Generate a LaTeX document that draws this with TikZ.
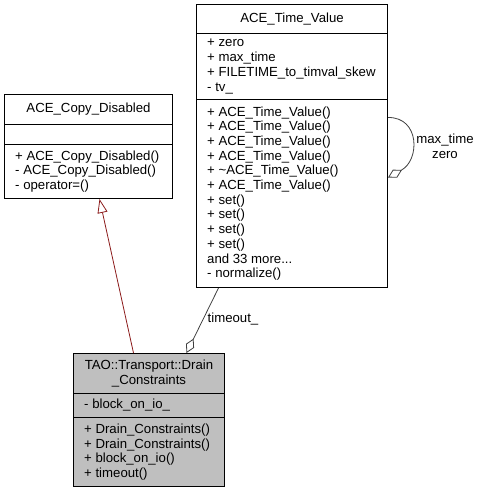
\documentclass[tikz,border=0pt]{standalone}
\usepackage{fontspec}
\setmainfont{Liberation Sans}
\usepackage{xcolor}
\usetikzlibrary{arrows.meta,positioning}
\definecolor{firebrick}{RGB}{139,26,26}
\definecolor{edgegrey}{RGB}{64,64,64}
\definecolor{classgrey}{RGB}{191,191,191}

\begin{document}
\begin{tikzpicture}[x=1pt,y=-1pt,
  every node/.style={font=\fontsize{13.2}{14.7}\selectfont},
  compart/.style={draw=black, line width=1pt, fill=white, anchor=north west, inner sep=0pt, align=center},
  members/.style={inner sep=0pt, align=left},
  inherit/.style={draw=firebrick, line width=0.8pt, -{Triangle[open,length=14pt,width=10pt]}},
  usage/.style={draw=edgegrey, line width=0.8pt, {Diamond[open,length=16pt,width=9pt]}-}]
\useasboundingbox (0,0) rectangle (479,493);

% ACE_Time_Value
\node[compart, minimum width=191pt, minimum height=29pt] (tvname) at (196,4) {ACE\_Time\_Value};
\node[compart, minimum width=191pt, minimum height=66pt] (tvattr) at (196,33) {};
\node[compart, minimum width=191pt, minimum height=188pt] (tvops) at (196,99) {};
\node[members, right=11pt of tvattr.west] (tvattrtxt) {+ zero\\+ max\_time\\+ FILETIME\_to\_timval\_skew\\- tv\_};
\node[members, right=11pt of tvops.west] (tvopstxt) {+ ACE\_Time\_Value()\\+ ACE\_Time\_Value()\\+ ACE\_Time\_Value()\\+ ACE\_Time\_Value()\\+ \textasciitilde ACE\_Time\_Value()\\+ ACE\_Time\_Value()\\+ set()\\+ set()\\+ set()\\+ set()\\and 33 more...\\- normalize()};

% ACE_Copy_Disabled
\node[compart, minimum width=168pt, minimum height=30pt] (cdname) at (4,94) {ACE\_Copy\_Disabled};
\node[compart, minimum width=168pt, minimum height=20pt] (cdattr) at (4,124) {};
\node[compart, minimum width=168pt, minimum height=54pt] (cdops) at (4,144) {};
\node[members, right=11pt of cdops.west] (cdopstxt) {+ ACE\_Copy\_Disabled()\\- ACE\_Copy\_Disabled()\\- operator=()};

% TAO::Transport::Drain_Constraints
\node[compart, fill=classgrey, minimum width=151pt, minimum height=40pt] (dcname) at (73,353) {TAO::Transport::Drain\\\_Constraints};
\node[compart, fill=classgrey, minimum width=151pt, minimum height=24pt] (dcattr) at (73,393) {};
\node[compart, fill=classgrey, minimum width=151pt, minimum height=69pt] (dcops) at (73,417) {};
\node[members, right=11pt of dcattr.west] (dcattrtxt) {- block\_on\_io\_};
\node[members, right=11pt of dcops.west] (dcopstxt) {+ Drain\_Constraints()\\+ Drain\_Constraints()\\+ block\_on\_io()\\+ timeout()};

% edges
\draw[inherit] ([xshift=-15.5pt]dcname.north) -- ([xshift=11pt]cdops.south);
\draw[usage] ([xshift=37.5pt]dcname.north) -- ([xshift=-73.5pt]tvops.south);
\draw[usage] ([yshift=16pt]tvops.east) .. controls (420,160) and (420,117) .. ([yshift=76pt]tvops.east);

\node (timeoutlbl) at (233,319) {timeout\_};
\node[align=center] (looplbl) at (445,146) {max\_time\\zero};
\end{tikzpicture}
\end{document}
